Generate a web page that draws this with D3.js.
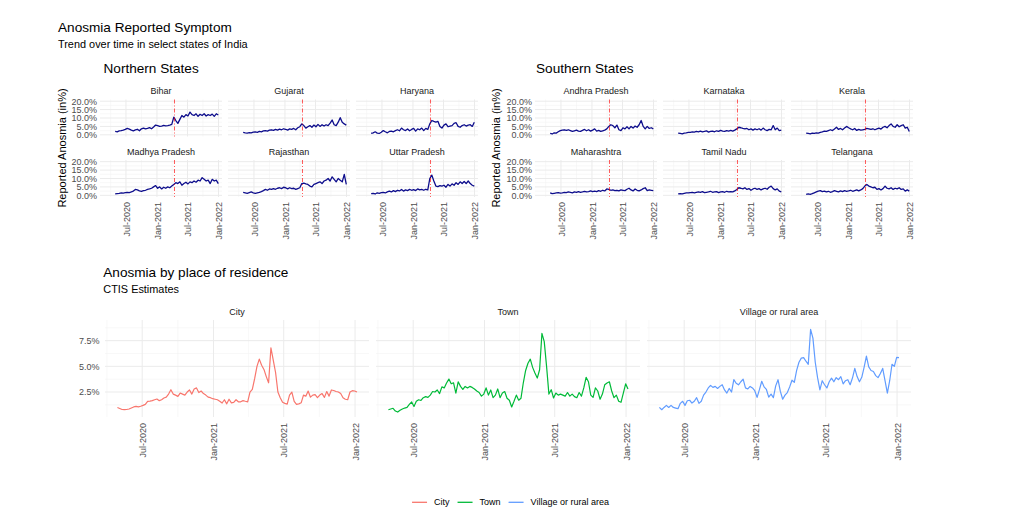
<!DOCTYPE html>
<html>
<head>
<meta charset="utf-8">
<script src="https://cdn.jsdelivr.net/npm/d3@7"></script>
<style>
  body { margin: 0; background: white; }
  text { font-family: "Liberation Sans", Arial, Helvetica, sans-serif; }
</style>
</head>
<body>
<div id="container"></div>
<script>
let w = 1015;
let h = 521;

// ---------- data ----------
// state series: one value every 12 days starting 2020-04-28
let stateStart = "2020-04-28";
let stateStepDays = 12;

let northernStates = ["Bihar", "Gujarat", "Haryana", "Madhya Pradesh", "Rajasthan", "Uttar Pradesh"];
let southernStates = ["Andhra Pradesh", "Karnataka", "Kerala", "Maharashtra", "Tamil Nadu", "Telangana"];

let bihar = [2.0, 1.8, 2.3, 2.5, 2.8, 3.2, 3.8, 3.4, 2.8, 2.4, 2.9, 3.3, 2.4, 3.6, 4.0, 3.5, 3.8, 4.3, 3.6, 4.6, 5.8,
  5.5, 5.0, 5.2, 5.6, 5.3, 5.5, 5.8, 6.2, 10.5, 8.5, 6.8, 9.2, 11.5, 10.5, 12.0, 11.2, 13.5, 12.0, 11.5, 12.5,
  11.0, 12.2, 11.5, 12.5, 11.2, 12.0, 11.5, 12.3, 11.0, 12.5, 11.8];
let gujarat = [1.5, 1.2, 1.0, 1.3, 1.1, 1.6, 1.8, 1.5, 2.0, 1.8, 2.3, 2.5, 2.2, 2.8, 3.0, 2.6, 3.2, 2.8, 3.4, 3.0, 3.6,
  3.3, 2.8, 3.5, 3.2, 3.8, 3.0, 4.2, 4.8, 6.5, 5.5, 4.0, 4.8, 5.5, 4.5, 5.8, 4.8, 6.2, 5.0, 6.0, 5.2,
  6.0, 5.5, 7.0, 8.8, 6.0, 5.5, 7.5, 10.2, 7.5, 6.5, 5.8];
let haryana = [0.8, 1.2, 1.8, 1.0, 0.8, 1.5, 2.5, 1.8, 1.2, 2.0, 2.2, 1.8, 2.5, 3.0, 2.4, 4.0, 3.0, 2.5, 3.5, 2.4, 3.2,
  3.8, 2.2, 3.5, 3.0, 4.0, 2.5, 3.8, 3.2, 6.5, 8.5, 8.0, 7.6, 8.0, 5.0, 4.0, 5.8, 6.5, 4.8, 5.2, 5.5,
  6.8, 7.2, 5.0, 4.5, 5.5, 6.0, 5.2, 5.8, 6.0, 5.0, 7.5];
let madhyaPradesh = [0.8, 1.0, 1.2, 1.5, 1.3, 1.6, 1.8, 1.6, 2.0, 2.5, 3.5, 3.2, 2.6, 2.4, 2.8, 3.0, 3.5, 3.8, 4.2, 5.0, 5.8,
  4.2, 5.0, 3.8, 4.8, 4.2, 5.0, 4.5, 5.5, 6.5, 7.5, 7.0, 8.0, 6.0, 7.0, 7.8, 6.8, 8.0, 7.5, 8.5, 7.8,
  9.0, 8.5, 10.5, 9.5, 8.5, 9.0, 7.0, 9.5, 8.5, 9.0, 7.0];
let rajasthan = [1.8, 1.5, 1.2, 1.6, 2.0, 1.5, 1.2, 1.5, 1.8, 2.2, 2.8, 3.5, 3.0, 3.8, 3.5, 4.0, 3.6, 4.2, 4.5, 4.0, 4.8,
  4.5, 3.8, 4.5, 4.0, 4.2, 3.5, 4.0, 4.5, 7.0, 7.2, 6.8, 6.5, 5.5, 5.0, 6.5, 7.0, 7.5, 8.0, 7.0, 8.5,
  9.0, 10.0, 8.5, 11.0, 9.5, 8.0, 10.0, 9.0, 8.0, 12.5, 6.5];
let uttarPradesh = [1.0, 1.2, 0.8, 1.5, 1.2, 1.6, 1.8, 1.4, 2.0, 2.5, 2.0, 2.8, 2.2, 3.0, 2.6, 3.5, 2.5, 3.2, 2.8, 3.5, 3.0,
  3.4, 2.8, 3.8, 3.2, 3.5, 3.0, 3.6, 3.2, 10.0, 12.0, 8.5, 5.5, 5.2, 5.8, 5.5, 6.0, 4.8, 6.5, 5.5, 6.8,
  6.0, 7.5, 6.5, 8.0, 7.0, 8.2, 7.0, 8.5, 7.0, 6.0, 5.5];

let andhraPradesh = [0.8, 0.5, 1.2, 1.0, 1.8, 2.5, 2.8, 3.0, 2.6, 3.0, 2.5, 2.0, 2.4, 2.8, 2.2, 2.0, 2.6, 3.2, 2.4, 3.0, 2.2,
  2.8, 3.5, 2.2, 2.6, 2.0, 2.4, 2.8, 3.5, 5.0, 6.0, 5.5, 4.2, 5.8, 3.0, 2.5, 4.2, 3.5, 4.8, 3.5, 5.0,
  4.0, 5.2, 4.5, 6.0, 8.5, 5.0, 3.5, 5.0, 3.8, 4.2, 3.5];
let karnataka = [1.0, 0.8, 0.6, 1.0, 1.2, 1.5, 1.4, 1.8, 1.6, 2.0, 1.8, 2.2, 1.8, 2.0, 2.4, 1.6, 2.0, 2.2, 1.8, 2.4, 2.0,
  2.6, 2.2, 2.0, 2.5, 2.2, 2.6, 2.2, 2.8, 3.5, 4.5, 4.2, 3.8, 3.5, 3.8, 3.0, 3.5, 2.8, 3.5, 3.0, 3.6,
  2.8, 4.0, 3.0, 2.5, 3.2, 3.0, 5.5, 3.0, 4.0, 2.5, 2.8];
let kerala = [1.0, 0.8, 0.6, 1.0, 0.8, 1.2, 1.0, 1.5, 1.8, 2.2, 2.0, 2.5, 3.0, 2.5, 3.5, 4.5, 3.2, 3.8, 3.0, 4.0, 5.0,
  4.2, 3.5, 3.0, 3.8, 2.6, 3.2, 2.8, 3.0, 3.2, 3.8, 3.5, 3.2, 3.6, 3.0, 3.5, 4.0, 3.4, 4.5, 5.0, 4.2,
  5.5, 6.5, 5.0, 4.5, 6.0, 4.8, 5.5, 6.0, 4.0, 4.5, 2.0];
let maharashtra = [1.5, 1.0, 1.2, 1.4, 1.6, 1.3, 1.5, 1.8, 1.6, 2.0, 1.8, 1.5, 2.0, 1.7, 2.2, 1.8, 2.0, 2.4, 2.0, 2.2, 2.6,
  2.2, 2.5, 2.2, 2.8, 2.4, 3.0, 2.6, 3.8, 3.5, 3.0, 3.2, 2.8, 3.0, 2.6, 3.2, 3.0, 2.8, 3.6, 4.2, 3.2,
  2.6, 3.8, 3.0, 2.6, 3.2, 4.0, 4.5, 2.8, 3.2, 3.0, 2.8];
let tamilNadu = [0.8, 1.0, 0.8, 1.2, 1.5, 1.4, 1.6, 1.8, 1.5, 1.8, 2.0, 1.8, 2.2, 1.6, 1.8, 2.0, 2.4, 1.8, 2.0, 2.2, 1.6,
  2.0, 2.2, 1.8, 2.4, 2.0, 2.2, 2.0, 2.6, 3.5, 4.5, 4.2, 3.8, 4.5, 3.5, 4.0, 3.0, 3.8, 4.2, 3.5, 4.0,
  3.2, 3.8, 4.2, 3.6, 4.8, 5.5, 4.0, 3.2, 3.8, 2.5, 2.0];
let telangana = [0.5, 0.8, 0.6, 1.0, 1.5, 2.0, 2.5, 2.8, 2.2, 2.5, 2.0, 2.4, 1.8, 2.2, 2.8, 2.4, 2.0, 2.6, 2.2, 2.8, 2.4,
  2.6, 3.0, 2.4, 2.8, 3.2, 2.6, 3.2, 4.0, 5.5, 6.5, 5.5, 5.0, 4.5, 4.8, 3.5, 4.0, 3.2, 4.0, 5.5, 4.2,
  3.8, 4.5, 3.5, 4.2, 3.8, 4.5, 3.5, 3.8, 2.5, 3.2, 2.5];

// residence series: one value every 6 days starting 2020-04-28
let residenceStart = "2020-04-28";
let residenceStepDays = 6;
let residenceTypes = ["City", "Town", "Village or rural area"];

let city = [1.0, 0.9, 0.8, 0.78, 0.8, 0.85, 0.95, 1.05, 1.1, 1.05, 1.12, 1.2, 1.3, 1.6, 1.62, 1.66, 1.75, 1.82, 1.66, 1.75,
  1.92, 2.0, 2.3, 2.73, 2.3, 2.2, 2.08, 2.4, 2.3, 2.2, 2.5, 2.7, 2.3, 2.8, 2.9, 2.45, 2.6, 2.35, 2.2, 2.0,
  1.95, 1.85, 1.8, 1.75, 1.6, 1.43, 1.75, 1.35, 1.8, 1.45, 1.5, 1.75, 1.55, 1.55, 1.66, 1.6, 1.55, 2.5, 2.75, 3.8,
  5.0, 5.7, 5.1, 4.7, 4.0, 3.4, 6.8, 5.6, 4.4, 2.5, 1.95, 1.5, 1.4, 1.33, 2.2, 2.5, 1.6, 1.3, 1.35, 1.45,
  2.2, 2.1, 2.6, 2.0, 2.2, 2.25, 1.95, 2.2, 2.35, 1.98, 2.55, 2.1, 2.7, 2.65, 2.55, 2.5, 2.35, 1.95, 1.8, 1.75,
  2.5, 2.63, 2.6, 2.5];
let town = [0.78, 0.85, 0.92, 0.65, 0.55, 0.72, 0.85, 0.94, 1.0, 1.3, 1.53, 1.1, 1.6, 1.75, 1.68, 1.95, 2.05, 1.98, 2.2, 2.55,
  2.5, 2.7, 2.35, 3.0, 2.9, 3.38, 3.76, 3.3, 3.4, 2.4, 3.5, 3.05, 2.75, 3.05, 2.9, 3.05, 2.95, 2.8, 2.6, 2.45,
  2.1, 2.3, 2.9, 2.2, 2.7, 1.95, 2.2, 2.8, 1.95, 2.4, 2.55, 1.9, 1.7, 1.05, 1.6, 2.2, 1.7, 1.9, 3.4, 4.6,
  5.3, 5.7, 4.9, 4.35, 3.86, 4.67, 8.2, 7.4, 5.0, 2.3, 2.73, 1.92, 2.4, 2.2, 2.3, 2.2, 2.1, 2.45, 2.1, 2.3,
  2.05, 1.95, 2.45, 2.1, 2.9, 3.93, 3.5, 2.2, 1.98, 2.9, 2.6, 1.8, 2.3, 3.2, 3.38, 3.5, 2.6, 1.95, 2.2, 1.6,
  1.5, 2.4, 3.3, 2.8];
let village = [1.0, 0.78, 1.0, 1.2, 1.0, 1.2, 1.0, 0.94, 0.88, 1.4, 1.6, 1.2, 1.65, 1.7, 1.43, 1.6, 1.95, 1.4, 1.6, 2.2,
  2.5, 2.9, 3.15, 2.95, 3.05, 2.85, 3.05, 3.21, 2.7, 2.4, 2.85, 2.5, 3.7, 3.35, 3.2, 3.5, 3.75, 2.9, 2.8, 3.05,
  2.9, 2.63, 1.98, 2.73, 3.55, 3.0, 2.75, 2.0, 2.3, 1.95, 3.1, 3.7, 2.56, 1.8, 2.2, 2.45, 3.0, 3.65, 3.45, 4.6,
  5.4, 5.8, 5.85, 5.5, 5.2, 8.6, 7.75, 5.4, 3.9, 2.7, 3.6, 3.21, 2.9, 3.5, 3.85, 3.5, 3.9, 3.7, 4.0, 3.3,
  3.6, 3.7, 3.21, 3.86, 4.8, 4.0, 3.5, 3.93, 4.9, 6.0, 4.95, 4.6, 4.5, 4.1, 3.9, 4.3, 4.8, 3.6, 2.4, 3.6,
  5.2, 5.0, 5.87, 5.85];

// axis breaks / limits
let dateTicks = ["2020-07-01", "2021-01-01", "2021-07-01", "2022-01-01"];
let dateMinorTicks = ["2020-04-01", "2020-10-01", "2021-04-01", "2021-10-01"];
let stateYTicks = [0, 5, 10, 15, 20];
let stateYMinor = [2.5, 7.5, 12.5, 17.5];
let stateYDomain = [-1, 21];
let stateXDomain = ["2020-01-29", "2022-01-22"];
let residenceYTicks = [2.5, 5.0, 7.5];
let residenceYMinor = [1.25, 3.75, 6.25, 8.75];
let residenceYDomain = [0.07, 9.51];
let residenceXDomain = ["2020-03-27", "2022-02-06"];
let surgeDate = "2021-04-15";

let residenceColors = ["#F8766D", "#00BA38", "#619CFF"];
let stateLineColor = "#0d0d8c";

// ---------- helpers ----------
let parseDate = d3.timeParse("%Y-%m-%d");
let formatTick = d3.timeFormat("%b-%Y");
let formatPct = function (d) { return d3.format(".1f")(d) + "%"; };

function toPoints(values, start, step) {
  let s = parseDate(start);
  return values.map(function (v, i) {
    return { date: d3.timeDay.offset(s, i * step), value: v };
  });
}

let stateValues = {
  "Bihar": bihar, "Gujarat": gujarat, "Haryana": haryana,
  "Madhya Pradesh": madhyaPradesh, "Rajasthan": rajasthan, "Uttar Pradesh": uttarPradesh,
  "Andhra Pradesh": andhraPradesh, "Karnataka": karnataka, "Kerala": kerala,
  "Maharashtra": maharashtra, "Tamil Nadu": tamilNadu, "Telangana": telangana
};
let residenceValues = [city, town, village];

let viz = d3.select("#container")
  .append("svg")
    .attr("width", w)
    .attr("height", h)
    .style("background-color", "white")
;

function drawGrid(g, xScale, yScale, xMajor, xMinor, yMajor, yMinor) {
  let xr = xScale.range();
  let yr = yScale.range();
  function hLines(vals, cls, col, sw) {
    g.selectAll("." + cls).data(vals).enter().append("line")
      .attr("class", cls)
      .attr("x1", xr[0]).attr("x2", xr[1])
      .attr("y1", function (d) { return yScale(d); })
      .attr("y2", function (d) { return yScale(d); })
      .attr("stroke", col).attr("stroke-width", sw);
  }
  function vLines(vals, cls, col, sw) {
    g.selectAll("." + cls).data(vals.map(parseDate)).enter().append("line")
      .attr("class", cls)
      .attr("y1", yr[0]).attr("y2", yr[1])
      .attr("x1", function (d) { return xScale(d); })
      .attr("x2", function (d) { return xScale(d); })
      .attr("stroke", col).attr("stroke-width", sw);
  }
  hLines(yMinor, "hmin", "#f3f3f3", 0.6);
  vLines(xMinor, "vmin", "#f3f3f3", 0.6);
  hLines(yMajor, "hmaj", "#ebebeb", 1);
  vLines(xMajor, "vmaj", "#ebebeb", 1);
}

function drawXAxis(g, xScale, yPos, offset) {
  let axis = d3.axisBottom(xScale)
    .tickValues(dateTicks.map(parseDate))
    .tickSize(0)
    .tickFormat(formatTick);
  let ag = g.append("g").attr("class", "xaxis")
    .attr("transform", "translate(0," + yPos + ")")
    .call(axis);
  ag.select(".domain").remove();
  ag.selectAll("text")
    .attr("y", 0)
    .attr("x", -offset)
    .attr("dy", "0.35em")
    .attr("transform", "rotate(-90)")
    .style("text-anchor", "end")
    .attr("fill", "#4d4d4d")
    .attr("font-size", 9);
}

function drawYAxis(g, yScale, xPos, ticks, pad) {
  let axis = d3.axisLeft(yScale).tickValues(ticks).tickSize(0).tickPadding(pad).tickFormat(formatPct);
  let ag = g.append("g").attr("class", "yaxis")
    .attr("transform", "translate(" + xPos + ",0)")
    .call(axis);
  ag.select(".domain").remove();
  ag.selectAll("text").attr("fill", "#4d4d4d").attr("font-size", 9).attr("font-family", null);
}

// ---------- titles ----------
viz.append("text").attr("x", 58).attr("y", 31.5).attr("font-size", 13.6).attr("fill", "#000")
  .text("Anosmia Reported Symptom");
viz.append("text").attr("x", 58).attr("y", 47.5).attr("font-size", 10.9).attr("fill", "#000")
  .text("Trend over time in select states of India");

// ---------- state facet blocks ----------
let statePanelW = 122;
let statePanelH = 37;
let statePanelGap = 6;
let stateRowTops = [99.5, 160];

function drawStateBlock(names, left, blockTitle, titleX, yTitleX) {
  let block = viz.append("g").attr("class", "stateblock");
  block.append("text").attr("x", titleX).attr("y", 72.5).attr("font-size", 13.6).attr("fill", "#000")
    .text(blockTitle);

  let lineMaker = d3.line();

  names.forEach(function (name, i) {
    let col = i % 3;
    let row = Math.floor(i / 3);
    let px = left + col * (statePanelW + statePanelGap);
    let top = stateRowTops[row];

    let xScale = d3.scaleTime().domain(stateXDomain.map(parseDate)).range([px, px + statePanelW]);
    let yScale = d3.scaleLinear().domain(stateYDomain).range([top + statePanelH, top]);
    let panel = block.append("g").attr("class", "panel");

    drawGrid(panel, xScale, yScale, dateTicks, dateMinorTicks, stateYTicks, stateYMinor);

    let points = toPoints(stateValues[name], stateStart, stateStepDays);
    lineMaker.x(function (d) { return xScale(d.date); }).y(function (d) { return yScale(d.value); });
    panel.append("path")
      .datum(points)
      .attr("d", lineMaker)
      .attr("fill", "none")
      .attr("stroke", stateLineColor)
      .attr("stroke-width", 1.3)
      .attr("stroke-linejoin", "round");

    let sx = xScale(parseDate(surgeDate));
    panel.append("line")
      .attr("x1", sx).attr("x2", sx)
      .attr("y1", top).attr("y2", top + statePanelH)
      .attr("stroke", "red")
      .attr("stroke-opacity", 0.65)
      .attr("stroke-width", 1)
      .attr("stroke-dasharray", "4,2,1,2");

    panel.append("text")
      .attr("x", px + statePanelW / 2)
      .attr("y", top - 8.5)
      .attr("dy", "0.35em")
      .attr("text-anchor", "middle")
      .attr("font-size", 9)
      .attr("fill", "#1a1a1a")
      .text(name);

    if (col == 0) drawYAxis(panel, yScale, px, stateYTicks, 3);
    if (row == 1) drawXAxis(panel, xScale, top + statePanelH, 5);
  });

  block.append("text")
    .attr("transform", "translate(" + yTitleX + ",148) rotate(-90)")
    .attr("text-anchor", "middle")
    .attr("dy", "0.35em")
    .attr("font-size", 11)
    .attr("fill", "#000")
    .text("Reported Anosmia (in%)");
}

drawStateBlock(northernStates, 100, "Northern States", 103.5, 62.5);
drawStateBlock(southernStates, 535, "Southern States", 536, 496);

// ---------- residence block ----------
viz.append("text").attr("x", 103.3).attr("y", 276.6).attr("font-size", 13.6).attr("fill", "#000")
  .text("Anosmia by place of residence");
viz.append("text").attr("x", 103.3).attr("y", 293.3).attr("font-size", 10.9).attr("fill", "#000")
  .text("CTIS Estimates");

let resLeft = 105;
let resPanelW = 264;
let resPanelGap = 7;
let resTop = 320;
let resBottom = 417;

residenceTypes.forEach(function (type, i) {
  let px = resLeft + i * (resPanelW + resPanelGap);
  let xScale = d3.scaleTime().domain(residenceXDomain.map(parseDate)).range([px, px + resPanelW]);
  let yScale = d3.scaleLinear().domain(residenceYDomain).range([resBottom, resTop]);
  let panel = viz.append("g").attr("class", "respanel");

  drawGrid(panel, xScale, yScale, dateTicks, dateMinorTicks, residenceYTicks, residenceYMinor);

  let points = toPoints(residenceValues[i], residenceStart, residenceStepDays);
  let lineMaker = d3.line()
    .x(function (d) { return xScale(d.date); })
    .y(function (d) { return yScale(d.value); });
  panel.append("path")
    .datum(points)
    .attr("d", lineMaker)
    .attr("fill", "none")
    .attr("stroke", residenceColors[i])
    .attr("stroke-width", 1.2)
    .attr("stroke-linejoin", "round");

  panel.append("text")
    .attr("x", px + resPanelW / 2)
    .attr("y", resTop - 8.3)
    .attr("dy", "0.35em")
    .attr("text-anchor", "middle")
    .attr("font-size", 9)
    .attr("fill", "#1a1a1a")
    .text(type);

  if (i == 0) drawYAxis(panel, yScale, px, residenceYTicks, 5.5);
  drawXAxis(panel, xScale, resBottom, 6);
});

// ---------- legend ----------
let legend = viz.append("g").attr("class", "legend");
let legendY = 502.3;
let items = legend.selectAll(".item").data(residenceTypes).enter().append("g").attr("class", "item");
items.append("line")
  .attr("x1", 0).attr("x2", 15)
  .attr("y1", legendY).attr("y2", legendY)
  .attr("stroke", function (d, i) { return residenceColors[i]; })
  .attr("stroke-width", 1.3);
items.append("text")
  .attr("x", 22)
  .attr("y", legendY)
  .attr("dy", "0.35em")
  .attr("font-size", 9)
  .attr("fill", "#000")
  .text(function (d) { return d; });

let cursor = 0;
let offsets = [];
items.each(function () {
  let tw = d3.select(this).select("text").node().getComputedTextLength();
  offsets.push(cursor);
  cursor += 22 + tw + 8;
});
let totalW = cursor - 8;
let legendStart = 510.5 - totalW / 2;
items.attr("transform", function (d, i) { return "translate(" + (legendStart + offsets[i]) + ",0)"; });
</script>
</body>
</html>
